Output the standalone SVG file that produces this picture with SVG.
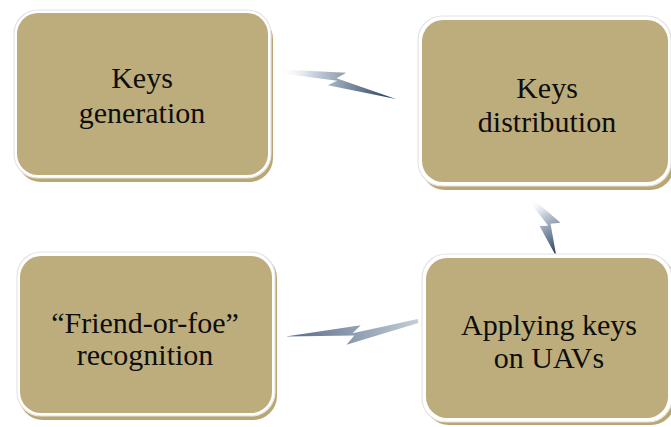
<svg xmlns="http://www.w3.org/2000/svg" width="671" height="427" viewBox="0 0 671 427">
<style>
.sh{fill:#b9a672}
.out{fill:#ffffff;stroke:#e4e4e4;stroke-width:1.2}
.in{fill:#bead7c}
text{font-family:'Liberation Serif','Times New Roman',serif;font-size:30px;fill:#0d0d0d;text-anchor:middle}
</style>
<defs>
<linearGradient id="g1" x1="0" y1="0" x2="1" y2="0">
<stop offset="0" stop-color="#ffffff" stop-opacity="0"/>
<stop offset="0.3" stop-color="#c9d2dd"/>
<stop offset="1" stop-color="#1e3958"/>
</linearGradient>
<linearGradient id="g3" x1="0" y1="0" x2="1" y2="0">
<stop offset="0" stop-color="#c4cdd8"/>
<stop offset="1" stop-color="#566b88"/>
</linearGradient>
<path id="bolt" d="M0,-1.5 L56,-9 L49,-3 L100,5 L43,4 L50,-1 L0,1.5 Z"/>
</defs>
<g id="connectors">
<use href="#bolt" fill="url(#g1)" transform="translate(277,71) rotate(10.4) scale(1.22,1.2)"/>
<use href="#bolt" fill="url(#g1)" transform="translate(531,200) rotate(59) scale(0.62,1.5)"/>
<use href="#bolt" fill="url(#g3)" transform="translate(418,321) rotate(170.5) scale(1.33,1.3)"/>
</g>
<g id="node-keys-generation">
<rect class="sh" x="17" y="15" width="256" height="167" rx="24"/>
<rect class="out" x="14" y="10" width="257" height="168" rx="24"/>
<rect class="in" x="17" y="13" width="251" height="162" rx="21"/>
<text x="142" y="88">Keys</text>
<text x="142" y="123">generation</text>
</g>
<g id="node-keys-distribution">
<rect class="sh" x="421" y="22" width="253" height="168" rx="24"/>
<rect class="out" x="418" y="16" width="253" height="170" rx="24"/>
<rect class="in" x="422" y="20" width="246" height="162" rx="21"/>
<text x="547" y="98">Keys</text>
<text x="547" y="132">distribution</text>
</g>
<g id="node-friend-or-foe">
<rect class="sh" x="19" y="254" width="258" height="166" rx="24"/>
<rect class="out" x="17" y="252" width="258" height="164" rx="24"/>
<rect class="in" x="20" y="256" width="252" height="157" rx="21"/>
<text x="145" y="333">“Friend-or-foe”</text>
<text x="145" y="365">recognition</text>
</g>
<g id="node-applying-keys">
<rect class="sh" x="425" y="257" width="250" height="168" rx="24"/>
<rect class="out" x="422" y="254" width="250" height="168" rx="24"/>
<rect class="in" x="426" y="258" width="242" height="160" rx="21"/>
<text x="549" y="335">Applying keys</text>
<text x="549" y="368">on UAVs</text>
</g>
</svg>
